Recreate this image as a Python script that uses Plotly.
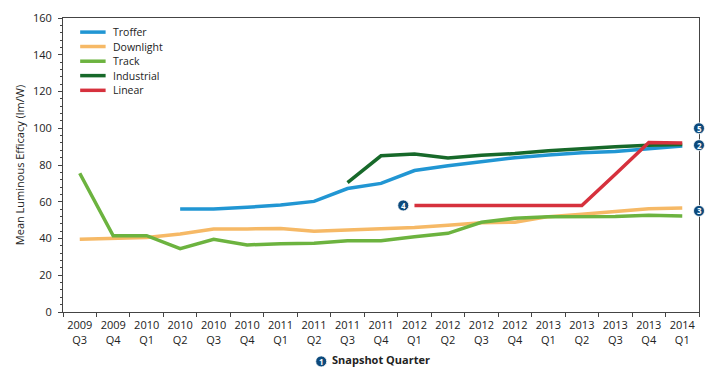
import plotly.graph_objects as go

quarters = ["2009<br>Q3", "2009<br>Q4", "2010<br>Q1", "2010<br>Q2", "2010<br>Q3", "2010<br>Q4",
            "2011<br>Q1", "2011<br>Q2", "2011<br>Q3", "2011<br>Q4", "2012<br>Q1", "2012<br>Q2",
            "2012<br>Q3", "2012<br>Q4", "2013<br>Q1", "2013<br>Q2", "2013<br>Q3", "2013<br>Q4",
            "2014<br>Q1"]

troffer = [None, None, None, 56, 56, 57, 58.2, 60.2, 67.2, 70, 77, 79.6, 81.8, 84, 85.4, 86.6, 87.3, 89, 90.4]
downlight = [39.6, 39.9, 40.6, 42.4, 45.2, 45.2, 45.4, 43.9, 44.6, 45.3, 46, 47.2, 48.6, 48.9, 51.9, 53.2, 54.6, 56.2, 56.6]
track = [75.5, 41.5, 41.5, 34.5, 39.6, 36.5, 37.2, 37.4, 38.8, 38.8, 41, 42.8, 48.8, 51, 51.9, 51.9, 52, 52.6, 52.3]
industrial = [None, None, None, None, None, None, None, None, 70.4, 85, 86, 83.8, 85.3, 86.2, 87.7, 89, 90, 90.8, 91.2]
linear = [None, None, None, None, None, None, None, None, None, None, 58, 58, 58, 58, 58, 58, 75, 92.3, 92]

series = [
    ("Troffer", troffer, "#2196d3"),
    ("Downlight", downlight, "#f6b966"),
    ("Track", track, "#6cb33f"),
    ("Industrial", industrial, "#17692a"),
    ("Linear", linear, "#d6313d"),
]

# callout markers: (label, x paper, y value)
callouts = [("5", 1.0, 100), ("2", 1.0, 90.8), ("3", 1.0, 55), ("4", 0.535, 58)]

FONT = "Open Sans"
fig = go.Figure()
for name, vals, col in series:
    fig.add_trace(go.Scatter(x=quarters, y=vals, mode="lines", name=name,
                             line=dict(color=col, width=3.5), connectgaps=False,
                             showlegend=False))

shapes = []
annotations = []
# manual legend
leg_y = [0.952, 0.903, 0.853, 0.804, 0.754]
for (name, vals, col), ly in zip(series, leg_y):
    shapes.append(dict(type="line", xref="paper", yref="paper", x0=0.027, x1=0.067,
                       y0=ly, y1=ly, line=dict(color=col, width=3.5)))
    annotations.append(dict(text=name, xref="paper", yref="paper", x=0.075, y=ly,
                            xanchor="left", yanchor="middle", showarrow=False,
                            font=dict(family=FONT, size=10.5, color="#222")))

NAVY = "#0d4a7c"
def circle(label, xa, ya, yref):
    shapes.append(dict(type="circle", xref="paper", yref=yref, xsizemode="pixel",
                       ysizemode="pixel", xanchor=xa, yanchor=ya, x0=-5.5, x1=5.5,
                       y0=-5.5, y1=5.5, fillcolor=NAVY, line=dict(color="white", width=0.8),
                       layer="above"))
    annotations.append(dict(text="<b>%s</b>" % label, xref="paper", yref=yref, x=xa, y=ya,
                            xanchor="center", yanchor="middle", showarrow=False,
                            font=dict(family=FONT, size=8, color="white")))

for lab, xa, ya in callouts:
    circle(lab, xa, ya, "y")
circle("1", 0.406, -0.168, "paper")

# page body adds an 8px margin, so the figure is shrunk and shifted accordingly
fig.update_layout(
    width=712, height=371,
    margin=dict(l=55, r=21, t=10, b=67),
    paper_bgcolor="white", plot_bgcolor="white",
    font=dict(family=FONT, size=11, color="#222"),
    shapes=shapes, annotations=annotations,
    xaxis=dict(type="category", tickson="boundaries", ticks="outside", ticklen=4,
               range=[-0.5, len(quarters) - 0.5], automargin=False, tickangle=0,
               ticklabelstandoff=3,
               tickcolor="#444", showline=True, linecolor="#444", linewidth=1, mirror=True,
               showgrid=False, tickfont=dict(family=FONT, size=11, color="#222"),
               title=dict(text="<b>Snapshot Quarter</b>", standoff=10,
                          font=dict(family=FONT, size=11, color="#222"))),
    yaxis=dict(range=[0, 160], dtick=20, ticks="outside", ticklen=4, tickcolor="#444",
               showline=True, linecolor="#444", linewidth=1, mirror=True, showgrid=False,
               zeroline=False, ticklabelstandoff=4, automargin=False,
               minor=dict(dtick=4, ticks="outside", ticklen=2, tickcolor="#444"),
               tickfont=dict(family=FONT, size=11, color="#222"),
               title=dict(text="Mean Luminous Efficacy (lm/W)", standoff=6,
                          font=dict(family=FONT, size=11, color="#222"))),
)

fig.write_html("out.html")
